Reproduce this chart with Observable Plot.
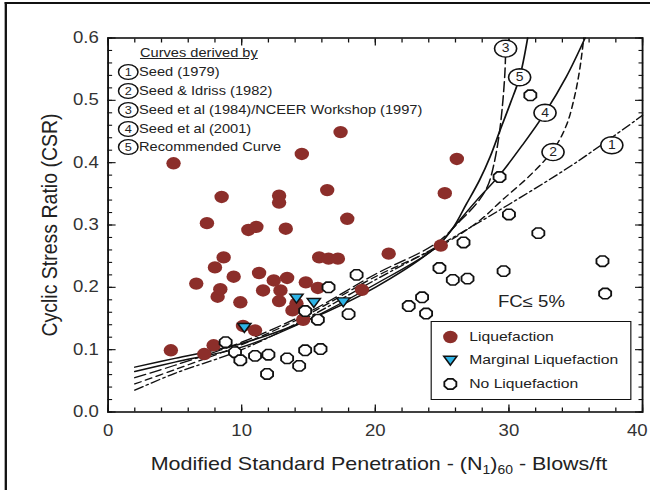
<!DOCTYPE html>
<html>
<head>
<meta charset="utf-8">
<script src="https://cdn.jsdelivr.net/npm/d3@7"></script>
<script src="https://cdn.jsdelivr.net/npm/@observablehq/plot@0.6"></script>
<style>
  html, body { margin: 0; padding: 0; background: #fff; overflow: hidden; }
  #wrap {
    position: relative; width: 560px; height: 490px;
    transform: scaleX(1.1607); transform-origin: 0 0;
    font-family: "Liberation Sans", Arial, sans-serif; color: #222;
  }
  #wrap > svg { position: absolute; left: 0; top: 0; }
  .abs { position: absolute; white-space: nowrap; }
  #border { position: absolute; left: 4.3px; top: 2px; width: 700px; height: 600px;
            border-left: 2px solid #111; border-top: 2px solid #111; }
  #xtitle { left: 0; width: 653px; top: 453px; text-align: center; font-size: 18.5px; line-height: 22px; }
  #xtitle sub { font-size: 12px; vertical-align: -4px; line-height: 0; }
  #ytitle { left: 42.5px; top: 225px; font-size: 19.5px; transform: translate(-50%, -50%) rotate(-90deg); }
  #curvesTitle { left: 120.6px; top: 45px; font-size: 12.6px; line-height: 16px; text-decoration: underline; }
  .crow { font-size: 12.6px; line-height: 18px; height: 18px; }
  .crow svg { position: absolute; left: -19px; top: 0; }
  #legendBox { left: 371.3px; top: 321px; width: 171px; height: 77px; border: 1.5px solid #111; background: #fff; }
  .lrow { font-size: 13.5px; line-height: 18px; height: 18px; left: 32px; }
  .lrow svg { position: absolute; left: -26px; top: 0; }
  #fc { left: 429px; top: 292px; font-size: 16px; line-height: 20px; }
</style>
</head>
<body>
<div id="wrap">
  <div id="border"></div>
</div>
<script>
// Cyclic stress ratio vs. corrected SPT blow count: case histories and boundary curves

// Boundary curves, [(N1)60, CSR]
const seed1979 = [[2,0.035],[5,0.062],[10,0.1],[15,0.152],[20,0.212],[25,0.27],[30,0.333],[35,0.4],[40,0.476]];
const seedIdriss1982 = [[2,0.045],[5,0.068],[10,0.108],[15,0.157],[20,0.217],[25,0.268],[27.8,0.307],[29.5,0.34],[31.5,0.378],[33.3,0.42],[34.3,0.46],[34.9,0.505],[35.3,0.55],[35.6,0.6]];
const nceer1997 = [[2,0.055],[5,0.075],[10,0.112],[15,0.16],[20,0.221],[24.5,0.27],[26.5,0.31],[27.6,0.335],[28.4,0.362],[28.9,0.4],[29.3,0.45],[29.55,0.5],[29.7,0.545],[29.75,0.575]];
const seed2001 = [[2,0.065],[5,0.08],[10,0.104],[15,0.148],[20,0.205],[24.5,0.263],[26,0.3],[27.6,0.34],[29.3,0.38],[31,0.428],[32.7,0.48],[34.3,0.538],[35.7,0.6]];
const recommended = [[2,0.072],[5,0.086],[10,0.11],[15,0.148],[20,0.2],[24.5,0.264],[25.8,0.295],[26.8,0.333],[27.8,0.372],[28.6,0.41],[29.3,0.45],[30.1,0.495],[30.8,0.537],[31.4,0.6]];

// Curve tags drawn on the curves
const tagText = ["1", "2", "3", "4", "5"];
const tagN = [37.7, 33.3, 29.75, 32.7, 30.8];
const tagCSR = [0.428, 0.417, 0.583, 0.48, 0.537];

// Case histories
const liqN = [4.9, 8.5, 12.8, 12.8, 7.4, 10.5, 11.1, 13.3, 8.65, 8.0, 9.4, 11.3, 12.4, 13.4, 6.6, 14.5, 17.4, 26.1, 25.2, 16.4, 17.9, 15.8, 16.5, 17.2, 21.0, 24.9, 14.8, 15.7, 19.0, 8.2, 8.4, 9.9, 11.6, 12.9, 12.8, 14.1, 13.8, 14.6, 10.1, 11.0, 4.7, 7.2, 7.9];
const liqCSR = [0.399, 0.345, 0.347, 0.336, 0.303, 0.292, 0.297, 0.294, 0.248, 0.232, 0.217, 0.223, 0.211, 0.215, 0.206, 0.414, 0.449, 0.406, 0.351, 0.356, 0.31, 0.248, 0.246, 0.246, 0.254, 0.267, 0.208, 0.199, 0.196, 0.185, 0.197, 0.176, 0.195, 0.195, 0.178, 0.174, 0.163, 0.148, 0.138, 0.131, 0.099, 0.093, 0.107];
const margN = [10.2, 14.1, 15.4, 17.6];
const margCSR = [0.136, 0.183, 0.176, 0.177];
const noLiqN = [26.6, 24.8, 25.8, 26.9, 29.6, 37.0, 37.2, 23.5, 22.5, 23.8, 18.6, 16.5, 14.75, 15.7, 18.0, 13.4, 14.3, 14.75, 15.9, 8.8, 9.5, 9.9, 11.0, 12.0, 11.9, 31.6, 29.3, 30.0, 32.2];
const noLiqCSR = [0.272, 0.231, 0.212, 0.214, 0.226, 0.242, 0.19, 0.184, 0.17, 0.158, 0.22, 0.2, 0.162, 0.148, 0.157, 0.086, 0.074, 0.099, 0.101, 0.112, 0.096, 0.083, 0.09, 0.092, 0.061, 0.508, 0.377, 0.317, 0.287];

// Axis ticks
const xMajor = [0, 10, 20, 30, 40];
const yMajor = [0, 0.1, 0.2, 0.3, 0.4, 0.5, 0.6];
const xMinor = d3.range(0, 40.01, 2);
const yMinor = d3.range(0, 0.6001, 0.02);

const legendCurves = ["Seed (1979)", "Seed & Idriss (1982)", "Seed et al (1984)/NCEER Workshop (1997)", "Seed et al (2001)", "Recommended Curve"];
const legendPoints = ["Liquefaction", "Marginal Liquefaction", "No Liquefaction"];

const RED = "#8c2e2a", CYAN = "#2eb4e6";

// Custom marker shapes
const radius = (size) => Math.sqrt(size / Math.PI);
const polygon = (ctx, pts) => { pts.forEach(([x, y], i) => i ? ctx.lineTo(x, y) : ctx.moveTo(x, y)); ctx.closePath(); };
const octagon = { draw(ctx, size) { const r = radius(size);
  polygon(ctx, d3.range(8).map(k => { const a = Math.PI / 8 + k * Math.PI / 4; return [r * Math.cos(a), r * Math.sin(a)]; })); } };
const triangleDown = { draw(ctx, size) { const r = radius(size);
  polygon(ctx, [[-r * 1.05, -r * 0.7], [r * 1.05, -r * 0.7], [0, r * 0.95]]); } };
const tagShape = { draw(ctx, size) { const r = radius(size);
  polygon(ctx, d3.range(20).map(k => { const a = k * Math.PI / 10; return [1.12 * r * Math.cos(a), r * Math.sin(a)]; })); } };

const rows = (xs, ys) => xs.map((n, i) => ({ n, csr: ys[i] }));
const pt = { x: d => d[0], y: d => d[1] };
const noText = () => "";
const tickStyle = { stroke: "#111", strokeWidth: 1.1, label: null, tickFormat: noText };

const chart = Plot.plot({
  width: 560, height: 490,
  marginLeft: 92.6, marginRight: 6.9, marginTop: 37.5, marginBottom: 78.5,
  x: { domain: [0, 40] },
  y: { domain: [0, 0.6] },
  style: { fontFamily: "Liberation Sans, Arial, sans-serif", background: "transparent", overflow: "visible" },
  marks: [
    // tick labels (the last one sits just inside the right edge)
    Plot.axisX(xMajor.slice(0, -1), { anchor: "bottom", tickSize: 0, tickPadding: 13, fontSize: 16, fill: "#333", label: null, tickFormat: d3.format("d") }),
    Plot.axisX(xMajor.slice(-1), { anchor: "bottom", tickSize: 0, tickPadding: 13, fontSize: 16, fill: "#333", label: null, tickFormat: d3.format("d"), dx: -4.5 }),
    Plot.axisY(yMajor, { anchor: "left", tickSize: 0, tickPadding: 8, fontSize: 16, fill: "#333", label: null, tickFormat: d3.format(".1f") }),
    // inward tick marks on all four sides
    Plot.axisX(xMajor, { anchor: "bottom", tickSize: -7, ...tickStyle }),
    Plot.axisX(xMinor, { anchor: "bottom", tickSize: -4, ...tickStyle }),
    Plot.axisX(xMajor, { anchor: "top", tickSize: -7, ...tickStyle }),
    Plot.axisX(xMinor, { anchor: "top", tickSize: -4, ...tickStyle }),
    Plot.axisY(yMajor, { anchor: "left", tickSize: -7, ...tickStyle }),
    Plot.axisY(yMinor, { anchor: "left", tickSize: -4, ...tickStyle }),
    Plot.axisY(yMajor, { anchor: "right", tickSize: -7, ...tickStyle }),
    Plot.axisY(yMinor, { anchor: "right", tickSize: -4, ...tickStyle }),
    Plot.frame({ stroke: "#111", strokeWidth: 1.6 }),
    // boundary curves
    Plot.line(seed1979, { ...pt, curve: "catmull-rom", stroke: "#111", strokeWidth: 1.3, strokeDasharray: "8,3,2,3" }),
    Plot.line(seedIdriss1982, { ...pt, curve: "catmull-rom", stroke: "#111", strokeWidth: 1.3, strokeDasharray: "6,4" }),
    Plot.line(nceer1997, { ...pt, curve: "catmull-rom", stroke: "#111", strokeWidth: 1.3, strokeDasharray: "10,4" }),
    Plot.line(seed2001, { ...pt, curve: "catmull-rom", stroke: "#111", strokeWidth: 1.4 }),
    Plot.line(recommended, { ...pt, curve: "catmull-rom", stroke: "#111", strokeWidth: 1.5 }),
    // case histories
    Plot.dot(rows(liqN, liqCSR), { x: "n", y: "csr", r: 6.2, fill: RED }),
    Plot.dot(rows(noLiqN, noLiqCSR), { x: "n", y: "csr", r: 5.6, symbol: octagon, fill: "white", stroke: "#111", strokeWidth: 1.6 }),
    Plot.dot(rows(margN, margCSR), { x: "n", y: "csr", r: 5.4, symbol: triangleDown, fill: CYAN, stroke: "#111", strokeWidth: 1.4 }),
    // curve tags
    Plot.dot(tagText, { x: (d, i) => tagN[i], y: (d, i) => tagCSR[i], r: 8.5, symbol: tagShape, fill: "white", stroke: "#111", strokeWidth: 1.4 }),
    Plot.text(tagText, { x: (d, i) => tagN[i], y: (d, i) => tagCSR[i], text: d => d, fontSize: 12, fill: "#222" })
  ]
});

const wrap = document.getElementById("wrap");
wrap.insertBefore(chart, wrap.firstChild);

function add(html) { wrap.insertAdjacentHTML("beforeend", html); }

add(`<div id="xtitle" class="abs">Modified Standard Penetration - (N<sub>1</sub>)<sub>60</sub> - Blows/ft</div>`);
add(`<div id="ytitle" class="abs">Cyclic Stress Ratio (CSR)</div>`);
add(`<div id="curvesTitle" class="abs">Curves derived by</div>`);

const rowY = [63, 82, 101, 120, 138];
legendCurves.forEach((t, i) => {
  add(`<div class="abs crow" style="left:119.8px;top:${rowY[i]}px"><svg width="19" height="18"><ellipse cx="9.5" cy="9" rx="8.4" ry="7.3" fill="white" stroke="#111" stroke-width="1.3"/><text x="9.5" y="13" font-size="11" text-anchor="middle" font-family="Liberation Sans, Arial, sans-serif" fill="#222">${tagText[i]}</text></svg>${t}</div>`);
});

add(`<div id="fc" class="abs">FC\u2264 5%</div>`);

const sym = [
  `<circle cx="10" cy="9" r="6.2" fill="${RED}"/>`,
  `<path d="M4.3,5.2 L15.7,5.2 L10,14.2 Z" fill="${CYAN}" stroke="#111" stroke-width="1.4"/>`,
  `<path d="${d3.range(8).map(k => { const a = Math.PI / 8 + k * Math.PI / 4; return (k ? "L" : "M") + (10 + 5.6 * Math.cos(a)).toFixed(2) + "," + (9 + 5.6 * Math.sin(a)).toFixed(2); }).join("")}Z" fill="white" stroke="#111" stroke-width="1.6"/>`
];
const legRowY = [5.5, 28.5, 52.5];
let box = `<div id="legendBox" class="abs">`;
legendPoints.forEach((t, i) => {
  box += `<div class="abs lrow" style="top:${legRowY[i]}px"><svg width="20" height="18">${sym[i]}</svg>${t}</div>`;
});
box += `</div>`;
add(box);
</script>
</body>
</html>
